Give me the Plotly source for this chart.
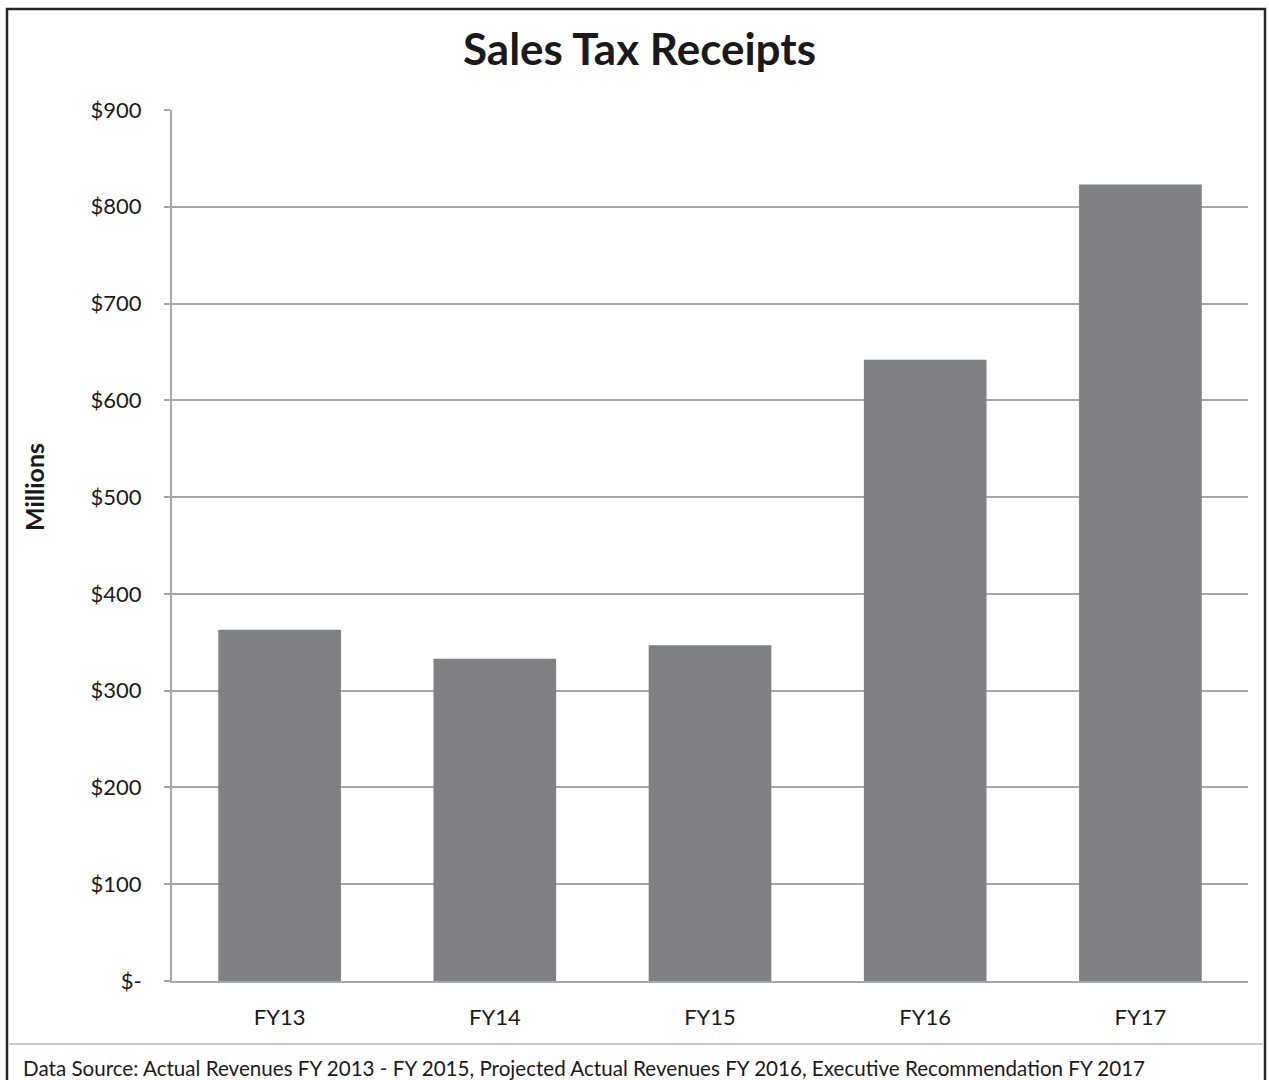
import plotly.graph_objects as go

# Sales tax receipts by fiscal year, in millions of dollars
fiscal_years = ["FY13", "FY14", "FY15", "FY16", "FY17"]
receipts_millions = [363, 333, 347, 642, 823]

y_tick_values = [0, 100, 200, 300, 400, 500, 600, 700, 800, 900]
y_tick_labels = ["$-", "$100", "$200", "$300", "$400", "$500", "$600", "$700", "$800", "$900"]

W, H = 1269, 1080
FONT = "Lato, 'Open Sans', 'DejaVu Sans', sans-serif"
BAR_COLOR = "#7f8084"
GRID_COLOR = "#a6a6a6"
TEXT_COLOR = "#1a1a1a"


def px_x(p):
    return p / W


def px_y(p):
    return 1 - p / H


fig = go.Figure(
    go.Bar(
        x=fiscal_years,
        y=receipts_millions,
        marker=dict(color=BAR_COLOR, line=dict(width=0)),
        hovertemplate="%{x}: $%{y}M<extra></extra>",
    )
)

fig.update_layout(
    width=W,
    height=H,
    margin=dict(l=0, r=0, t=0, b=0, autoexpand=False),
    paper_bgcolor="white",
    plot_bgcolor="white",
    showlegend=False,
    bargap=0.43,
    font=dict(family=FONT, color=TEXT_COLOR, size=22),
    xaxis=dict(
        domain=[px_x(172), px_x(1248)],
        showgrid=False,
        showline=True,
        linecolor=GRID_COLOR,
        linewidth=2,
        ticks="",
        ticklabelstandoff=16,
        automargin=False,
        tickfont=dict(size=22, family=FONT, color=TEXT_COLOR),
    ),
    yaxis=dict(
        domain=[px_y(981), px_y(110)],
        range=[0, 900],
        tickvals=y_tick_values,
        ticktext=y_tick_labels,
        showgrid=True,
        gridcolor=GRID_COLOR,
        gridwidth=1.5,
        showline=True,
        linecolor=GRID_COLOR,
        linewidth=2,
        ticks="outside",
        ticklen=6,
        tickcolor=GRID_COLOR,
        tickwidth=1.5,
        ticklabelstandoff=18,
        automargin=False,
        tickfont=dict(size=22, family=FONT, color=TEXT_COLOR),
        zeroline=False,
    ),
    annotations=[
        dict(
            text="<b>Sales Tax Receipts</b>",
            x=px_x(640), y=px_y(48),
            xref="paper", yref="paper",
            xanchor="center", yanchor="middle",
            showarrow=False,
            font=dict(size=44, family=FONT, color=TEXT_COLOR),
        ),
        dict(
            text="<b>Millions</b>",
            x=px_x(34), y=px_y(487),
            xref="paper", yref="paper",
            xanchor="center", yanchor="middle",
            textangle=-90,
            showarrow=False,
            font=dict(size=25, family=FONT, color=TEXT_COLOR),
        ),
        dict(
            text="Data Source: Actual Revenues FY 2013 - FY 2015, Projected Actual Revenues FY 2016, Executive Recommendation FY 2017",
            x=px_x(21), y=px_y(1068),
            xref="paper", yref="paper",
            xanchor="left", yanchor="middle",
            showarrow=False,
            font=dict(size=20.6, family=FONT, color=TEXT_COLOR),
        ),
    ],
    shapes=[
        # outer frame
        dict(
            type="rect", xref="paper", yref="paper",
            x0=px_x(7), x1=px_x(1265), y0=px_y(1090), y1=px_y(9),
            line=dict(color="#262626", width=2.5),
            fillcolor="rgba(0,0,0,0)",
            layer="above",
        ),
        # separator above the source note
        dict(
            type="line", xref="paper", yref="paper",
            x0=px_x(8), x1=px_x(1264), y0=px_y(1044), y1=px_y(1044),
            line=dict(color="#c8c8c8", width=2),
        ),
    ],
)

fig.write_html("out.html")
